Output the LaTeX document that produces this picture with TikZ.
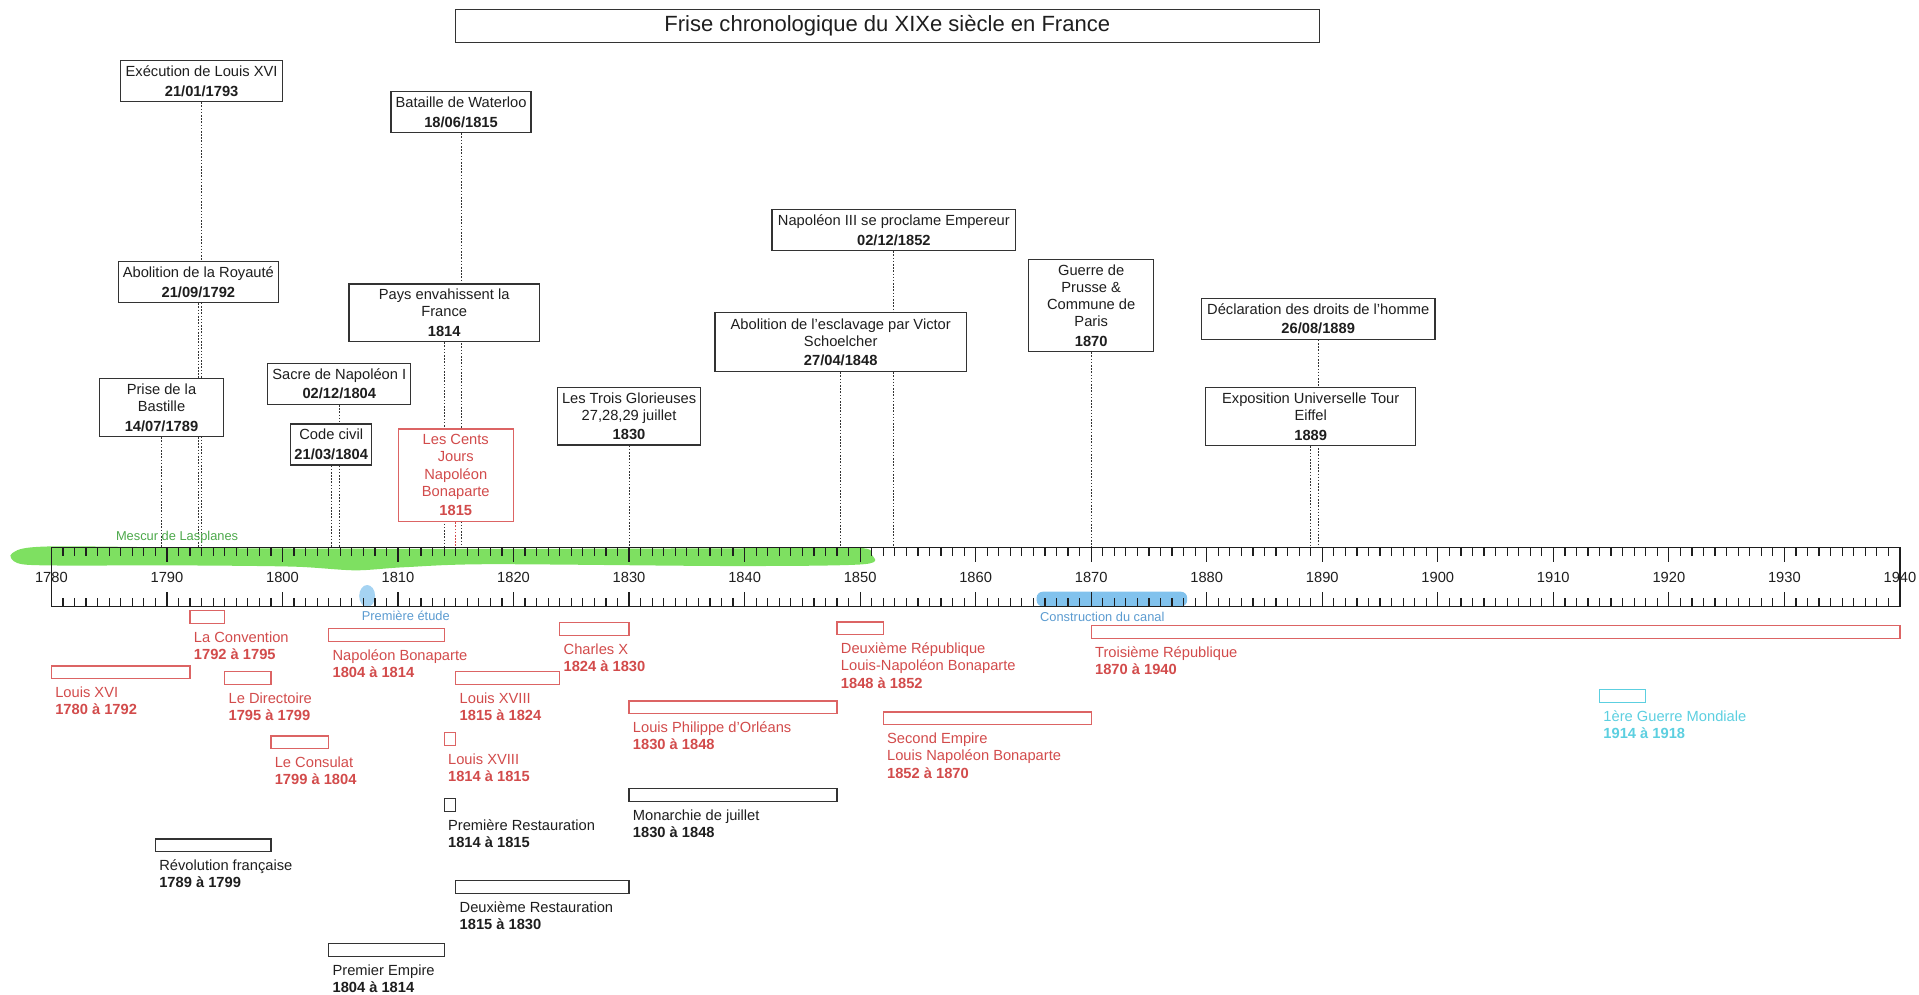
\documentclass[tikz,border=0pt]{standalone}
\usepackage{fontspec}
\setmainfont{Liberation Sans}
\pgfdeclarelayer{bg}
\pgfsetlayers{bg,main}
\definecolor{txt}{HTML}{1E1E1E}
\definecolor{boxline}{HTML}{333333}
\definecolor{redt}{HTML}{D24B4B}
\definecolor{redb}{HTML}{DC6464}
\definecolor{cyant}{HTML}{5CCFE0}
\definecolor{bluet}{HTML}{5B9BD0}
\definecolor{blueh}{HTML}{4BA8E6}
\definecolor{greent}{HTML}{4CA84A}
\definecolor{greenh}{HTML}{5ED83A}
\newcommand\yrx[1]{42+(#1-1780)*9.44}
% name, bar colour, text colour, from, to, bar top, number of lines, text
\newcommand\period[8]{%
  \draw[line width=1pt,draw=#2] ({\yrx{#4}},#6) rectangle ({\yrx{#5}},#6+10.5);
  \node[plabel,text=#3,anchor=base west] (#1) at ({\yrx{#4}+3},{#6+26+14*(#7-1)}) {#8};}
\begin{document}
\begin{tikzpicture}[x=1pt,y=-1pt,
  evt/.style={draw=boxline, line width=1pt, fill=white, align=center, inner sep=1pt, text=txt, font=\fontsize{12}{14}\selectfont},
  conn/.style={draw=black!80, line width=0.9pt, dash pattern=on 1.3pt off 1.3pt},
  plabel/.style={inner sep=0pt, align=left, font=\fontsize{12}{14}\selectfont},
  axisline/.style={draw=txt, line width=1pt},
  yearlbl/.style={inner sep=0pt, text=txt, font=\fontsize{12}{14}\selectfont},
  note/.style={inner sep=0pt, font=\fontsize{10.5}{12}\selectfont}]
\useasboundingbox (0,0) rectangle (1568,813);

% title
\node[draw=boxline, line width=1pt, minimum width=706pt, minimum height=26.5pt, inner sep=0pt,
      font=\fontsize{18}{20}\selectfont, text=txt] (title) at (725,21.3)
      {Frise chronologique du XIXe siècle en France};

% highlights
\begin{pgfonlayer}{bg}
\fill[greenh, opacity=0.8] plot[smooth cycle, tension=0.5] coordinates
  {(10,452) (40,446.5) (200,448) (400,448.5) (600,448) (700,447.5) (712,453) (706,461)
   (600,462.5) (400,461) (330,463.5) (290,466) (240,463) (150,462) (40,462) (14,460)};
\fill[blueh, opacity=0.5] (300,487) ellipse [x radius=6.5pt, y radius=9pt];
\fill[blueh, opacity=0.7, rounded corners=5pt] (847,483.5) rectangle (970,495.5);
\end{pgfonlayer}

% axis
\coordinate (axtop) at (42,447.5);
\draw[axisline] (axtop) rectangle (1552.4,495.5);
\foreach \yy in {1781,...,1939} {
  \draw[axisline] ({\yrx{\yy}},447.5) -- ++(0,7);
  \draw[axisline] ({\yrx{\yy}},495.5) -- ++(0,-7);
}
\foreach \yy in {1790,1800,...,1930} {
  \draw[axisline] ({\yrx{\yy}},447.5) -- ++(0,12);
  \draw[axisline] ({\yrx{\yy}},495.5) -- ++(0,-12);
}
\foreach \yy in {1780,1790,...,1940} {
  \node[yearlbl] (y\yy) at ({\yrx{\yy}},472) {\yy};
}

% notes
\node[note, text=greent] (mescur) at (144.7,439.3) {Mescur de Lasplanes};
\node[note, text=bluet, anchor=west] (etude) at (295.5,503.5) {Première étude};
\node[note, text=bluet, anchor=west] (canal) at (849.7,504) {Construction du canal};

% event boxes
\node[evt, minimum width=132pt, minimum height=33.5pt] (exec) at ({\yrx{1793}},66.35)
  {Exécution de Louis XVI\\[2pt]\textbf{21/01/1793}};
\node[evt, minimum width=131pt, minimum height=33.5pt] (abroy) at ({\yrx{1792.72}},230.55)
  {Abolition de la Royauté\\[2pt]\textbf{21/09/1792}};
\node[evt, minimum width=101pt, minimum height=47.7pt] (bast) at ({\yrx{1789.53}},332.95)
  {Prise de la\\Bastille\\[2pt]\textbf{14/07/1789}};
\node[evt, minimum width=116.8pt, minimum height=33.5pt] (sacre) at ({\yrx{1804.92}},313.65)
  {Sacre de Napoléon I\\[2pt]\textbf{02/12/1804}};
\node[evt, minimum width=66pt, minimum height=33.5pt] (code) at ({\yrx{1804.22}},363.15)
  {Code civil\\[2pt]\textbf{21/03/1804}};
\node[evt, minimum width=114.4pt, minimum height=33.5pt] (water) at ({\yrx{1815.46}},91.65)
  {Bataille de Waterloo\\[2pt]\textbf{18/06/1815}};
\node[evt, minimum width=155.7pt, minimum height=47.2pt] (pays) at ({\yrx{1814}},255.6)
  {Pays envahissent la\\France\\[2pt]\textbf{1814}};
\node[evt, draw=redb, text=redt, minimum width=94pt, minimum height=75.7pt] (cents) at ({\yrx{1815}},388.35)
  {Les Cents\\Jours\\Napoléon\\Bonaparte\\[2pt]\textbf{1815}};
\node[evt, minimum width=116.7pt, minimum height=47.1pt] (trois) at ({\yrx{1830}},340.05)
  {Les Trois Glorieuses\\27,28,29 juillet\\[2pt]\textbf{1830}};
\node[evt, minimum width=199pt, minimum height=33.8pt] (nap3) at ({\yrx{1852.92}},187.9)
  {Napoléon III se proclame Empereur\\[2pt]\textbf{02/12/1852}};
\node[evt, minimum width=205.4pt, minimum height=48.2pt] (escl) at ({\yrx{1848.32}},279.6)
  {Abolition de l'esclavage par Victor\\Schoelcher\\[2pt]\textbf{27/04/1848}};
\node[evt, minimum width=102pt, minimum height=75.4pt] (guerre) at ({\yrx{1870}},249.6)
  {Guerre de\\Prusse \&\\Commune de\\Paris\\[2pt]\textbf{1870}};
\node[evt, minimum width=191pt, minimum height=33.5pt] (decl) at ({\yrx{1889.65}},260.45)
  {Déclaration des droits de l'homme\\[2pt]\textbf{26/08/1889}};
\node[evt, minimum width=171.4pt, minimum height=47.6pt] (expo) at ({\yrx{1889}},340.3)
  {Exposition Universelle Tour\\Eiffel\\[2pt]\textbf{1889}};

% connectors
\begin{pgfonlayer}{bg}
\foreach \n in {exec,abroy,bast,sacre,code,water,pays,trois,nap3,escl,guerre,decl,expo}
  \draw[conn] (\n.south) -- (\n.south |- axtop);
\draw[conn, draw=redt] (cents.south) -- (cents.south |- axtop);
\end{pgfonlayer}

% periods
\period{louis16}{redb}{redt}{1780}{1792}{544.2}{2}{Louis XVI\\\textbf{1780 à 1792}}
\period{conv}{redb}{redt}{1792}{1795}{499}{2}{La Convention\\\textbf{1792 à 1795}}
\period{direct}{redb}{redt}{1795}{1799}{548.8}{2}{Le Directoire\\\textbf{1795 à 1799}}
\period{consul}{redb}{redt}{1799}{1804}{601.4}{2}{Le Consulat\\\textbf{1799 à 1804}}
\period{napb}{redb}{redt}{1804}{1814}{513.4}{2}{Napoléon Bonaparte\\\textbf{1804 à 1814}}
\period{louis18b}{redb}{redt}{1815}{1824}{548.8}{2}{Louis XVIII\\\textbf{1815 à 1824}}
\period{louis18a}{redb}{redt}{1814}{1815}{598.6}{2}{Louis XVIII\\\textbf{1814 à 1815}}
\period{charles}{redb}{redt}{1824}{1830}{508.5}{2}{Charles X\\\textbf{1824 à 1830}}
\period{louisph}{redb}{redt}{1830}{1848}{572.8}{2}{Louis Philippe d'Orléans\\\textbf{1830 à 1848}}
\period{rep2}{redb}{redt}{1848}{1852}{508.2}{3}{Deuxième République\\Louis-Napoléon Bonaparte\\\textbf{1848 à 1852}}
\period{emp2}{redb}{redt}{1852}{1870}{581.7}{3}{Second Empire\\Louis Napoléon Bonaparte\\\textbf{1852 à 1870}}
\period{rep3}{redb}{redt}{1870}{1940}{511.2}{2}{Troisième République\\\textbf{1870 à 1940}}
\period{ww1}{cyant}{cyant}{1914}{1918}{563.2}{2}{1ère Guerre Mondiale\\\textbf{1914 à 1918}}
\period{revol}{boxline}{txt}{1789}{1799}{685.5}{2}{Révolution française\\\textbf{1789 à 1799}}
\period{rest1}{boxline}{txt}{1814}{1815}{652.3}{2}{Première Restauration\\\textbf{1814 à 1815}}
\period{monjuil}{boxline}{txt}{1830}{1848}{644.1}{2}{Monarchie de juillet\\\textbf{1830 à 1848}}
\period{rest2}{boxline}{txt}{1815}{1830}{719.5}{2}{Deuxième Restauration\\\textbf{1815 à 1830}}
\period{emp1}{boxline}{txt}{1804}{1814}{771}{2}{Premier Empire\\\textbf{1804 à 1814}}
\end{tikzpicture}
\end{document}
